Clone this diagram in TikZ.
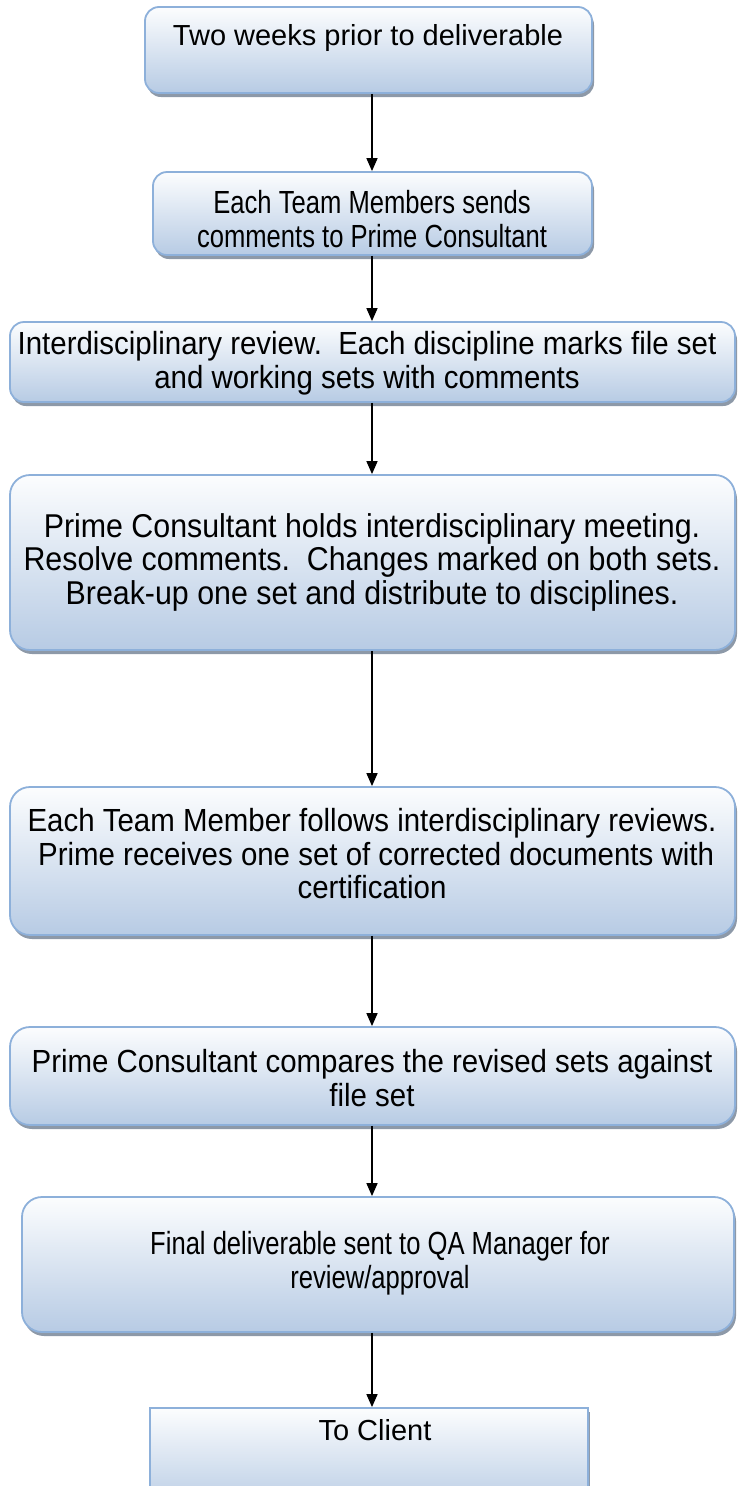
\documentclass[tikz,border=0pt]{standalone}
\usepackage{fontspec}
\setmainfont{Liberation Sans}
\newfontfamily\condfont[FakeStretch=0.8]{Liberation Sans}
\newfontfamily\midfont[FakeStretch=0.92]{Liberation Sans}
\usetikzlibrary{shadows,arrows.meta}
\definecolor{bordblue}{HTML}{8DB0DA}
\definecolor{topfill}{HTML}{FCFDFE}
\definecolor{botfill}{HTML}{B7CBE4}
\definecolor{shadowgray}{HTML}{8D99A8}
\begin{document}
\begin{tikzpicture}[x=1pt,y=-1pt,
  flowbox/.style={draw=bordblue, line width=1.8pt, rounded corners=14pt,
    top color=topfill, bottom color=botfill,
    drop shadow={shadow xshift=2pt, shadow yshift=-4pt, fill=shadowgray, opacity=1},
    inner sep=0pt},
  bigbox/.style={flowbox, rounded corners=20pt},
  boxtext/.style={align=center, inner sep=0pt, font=\condfont\fontsize{32}{33.5}\selectfont},
  widetext/.style={align=center, inner sep=0pt, font=\midfont\fontsize{32}{33.5}\selectfont},
  plaintext/.style={align=center, inner sep=0pt, font=\fontsize{29}{33.5}\selectfont},
  arr/.style={line width=1.6pt, -{Triangle[length=13pt,width=11pt]}}]
\useasboundingbox (0,0) rectangle (738,1486);

\node[flowbox, minimum width=447pt, minimum height=86pt] (b1) at (368.5,50) {};
\node[flowbox, minimum width=439pt, minimum height=83pt] (b2) at (372.5,213.5) {};
\node[flowbox, minimum width=725pt, minimum height=80pt] (b3) at (372.5,362) {};
\node[bigbox, minimum width=725pt, minimum height=175pt] (b4) at (372.5,562.5) {};
\node[bigbox, minimum width=725pt, minimum height=148pt] (b5) at (372.5,861) {};
\node[bigbox, minimum width=725pt, minimum height=98pt] (b6) at (372.5,1076) {};
\node[bigbox, minimum width=712pt, minimum height=135pt] (b7) at (378,1264.5) {};
\node[flowbox, rounded corners=0pt, minimum width=438pt, minimum height=102pt] (b8) at (369,1459) {};

\node[plaintext] (t1) at (368,38) {Two weeks prior to deliverable};
\node[boxtext] (t2) at (372,219) {Each Team Members sends\\comments to Prime Consultant};
\node[widetext] (t3) at (367,363) {Interdisciplinary review.\ \ Each discipline marks file set\\and working sets with comments};
\node[widetext, font=\midfont\fontsize{33}{33.5}\selectfont] (t4) at (372,562) {Prime Consultant holds interdisciplinary meeting.\\Resolve comments.\ \ Changes marked on both sets.\\Break-up one set and distribute to disciplines.};
\node[widetext] (t5) at (372,854) {Each Team Member follows interdisciplinary reviews.\\\ Prime receives one set of corrected documents with\\certification};
\node[widetext] (t6) at (372,1078) {Prime Consultant compares the revised sets against\\file set};
\node[boxtext] (t7) at (380,1263) {Final deliverable sent to QA Manager for\\review/approval};
\node[plaintext] (t8) at (375,1430) {To Client};

\coordinate (ax) at (372,0);
\draw[arr] (b1.south -| ax) -- (b2.north -| ax);
\draw[arr] (b2.south -| ax) -- (b3.north -| ax);
\draw[arr] (b3.south -| ax) -- (b4.north -| ax);
\draw[arr] (b4.south -| ax) -- (b5.north -| ax);
\draw[arr] (b5.south -| ax) -- (b6.north -| ax);
\draw[arr] (b6.south -| ax) -- (b7.north -| ax);
\draw[arr] (b7.south -| ax) -- (b8.north -| ax);
\end{tikzpicture}
\end{document}
